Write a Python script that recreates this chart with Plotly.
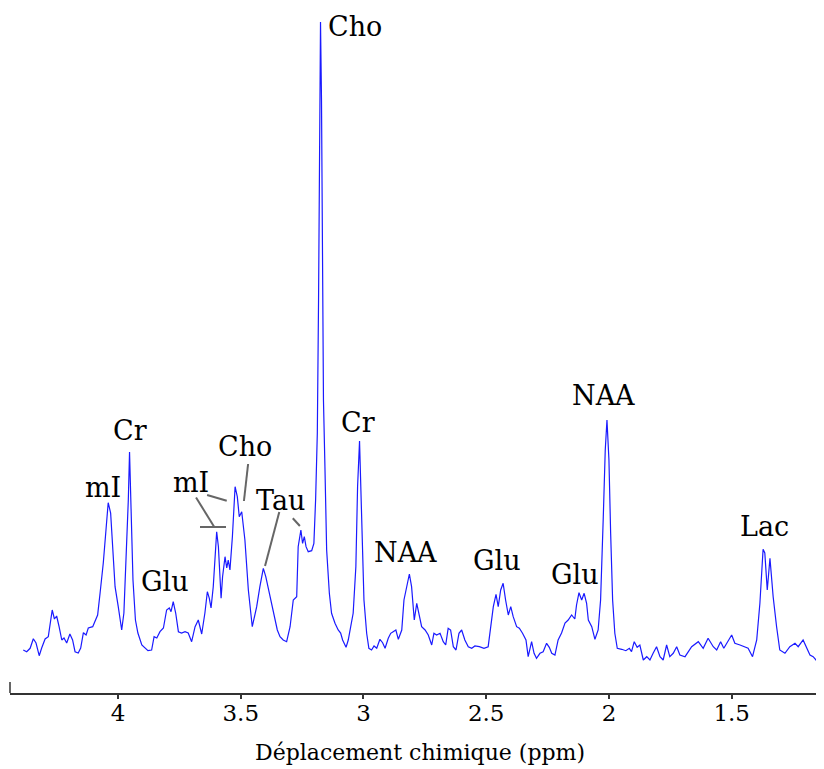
import plotly.graph_objects as go

# Chemical shift (ppm) and signal intensity (a.u.)
ppm = [
    4.386, 4.372, 4.358, 4.345, 4.334, 4.321, 4.311, 4.297, 4.284, 4.277,
    4.268, 4.259, 4.250, 4.240, 4.229, 4.220, 4.209, 4.196, 4.185, 4.175,
    4.162, 4.152, 4.141, 4.130, 4.121, 4.103, 4.094, 4.083, 4.073, 4.060,
    4.049, 4.040, 4.030, 4.022, 4.012, 3.999, 3.985, 3.976, 3.965, 3.958,
    3.953, 3.947, 3.939, 3.929, 3.919, 3.903, 3.890, 3.878, 3.863, 3.853,
    3.842, 3.829, 3.815, 3.802, 3.791, 3.784, 3.775, 3.765, 3.754, 3.741,
    3.727, 3.714, 3.700, 3.686, 3.673, 3.659, 3.646, 3.636, 3.628, 3.621,
    3.612, 3.605, 3.598, 3.591, 3.580, 3.574, 3.564, 3.557, 3.551, 3.544,
    3.534, 3.523, 3.514, 3.506, 3.496, 3.483, 3.469, 3.453, 3.435, 3.422,
    3.408, 3.398, 3.384, 3.367, 3.351, 3.340, 3.327, 3.313, 3.299, 3.286,
    3.272, 3.266, 3.255, 3.248, 3.241, 3.234, 3.225, 3.211, 3.202, 3.195,
    3.188, 3.183, 3.179, 3.175, 3.171, 3.167, 3.163, 3.157, 3.150, 3.139,
    3.130, 3.116, 3.103, 3.093, 3.085, 3.071, 3.062, 3.052, 3.042, 3.031,
    3.024, 3.016, 3.011, 3.006, 2.998, 2.987, 2.978, 2.967, 2.957, 2.946,
    2.933, 2.922, 2.912, 2.899, 2.889, 2.879, 2.868, 2.858, 2.844, 2.835,
    2.824, 2.813, 2.804, 2.793, 2.783, 2.773, 2.763, 2.749, 2.736, 2.722,
    2.713, 2.702, 2.688, 2.675, 2.665, 2.655, 2.645, 2.634, 2.623, 2.611,
    2.600, 2.587, 2.573, 2.559, 2.546, 2.528, 2.509, 2.492, 2.482, 2.471,
    2.460, 2.451, 2.441, 2.431, 2.421, 2.410, 2.400, 2.390, 2.376, 2.365,
    2.352, 2.338, 2.329, 2.315, 2.305, 2.295, 2.281, 2.268, 2.254, 2.243,
    2.233, 2.220, 2.207, 2.193, 2.179, 2.166, 2.152, 2.139, 2.132, 2.122,
    2.111, 2.101, 2.091, 2.084, 2.070, 2.057, 2.044, 2.034, 2.023, 2.015,
    2.008, 2.000, 1.993, 1.985, 1.976, 1.966, 1.948, 1.931, 1.917, 1.908,
    1.897, 1.885, 1.874, 1.860, 1.846, 1.833, 1.820, 1.806, 1.792, 1.779,
    1.765, 1.752, 1.738, 1.724, 1.711, 1.690, 1.663, 1.636, 1.616, 1.596,
    1.575, 1.561, 1.545, 1.532, 1.500, 1.487, 1.466, 1.446, 1.433, 1.415,
    1.398, 1.385, 1.372, 1.365, 1.355, 1.344, 1.331, 1.317, 1.304, 1.283,
    1.263, 1.242, 1.229, 1.209, 1.195, 1.181, 1.168, 1.147, 1.134,
]

intensity = [
    20, 18.3, 21.7, 31.3, 27, 14.3, 22, 31, 33.3, 47,
    60, 51, 54, 43.3, 30, 32, 27, 36, 30, 18.3,
    17, 22, 37.3, 35, 42, 43.3, 48.3, 55, 77, 107,
    140, 167.3, 157, 123.3, 83.3, 63.3, 40, 57, 123.3, 170,
    218, 170, 90, 50, 37, 25, 22, 19.3, 20, 33.3,
    32, 38.3, 42, 60, 62, 58.3, 68.3, 57, 38.3, 37,
    38.3, 37, 28.3, 43.3, 50, 36, 57, 78.3, 71.7, 62,
    83.3, 115, 138.3, 123.3, 71.7, 93.3, 113.3, 102, 110, 100,
    133.3, 183.3, 173.3, 153.3, 158.3, 130, 80, 43.3, 63.3, 83.3,
    101.7, 93.3, 76.7, 56.7, 40, 33.3, 30, 28.3, 43.3, 70,
    73.3, 123.3, 140, 126.7, 133.3, 123.3, 118.3, 119.3, 126.7, 170,
    237, 370, 570, 648, 570, 370, 270, 203.3, 120, 76.7,
    56.7, 46.7, 40, 37, 30, 22.7, 30, 43.3, 56.7, 103.3,
    183.3, 229, 183.3, 120, 70, 36.7, 21.7, 20, 24, 21.7,
    30.7, 27.3, 21.7, 31.7, 36.7, 38.3, 40, 30.7, 40, 70,
    83.3, 96, 83.3, 50, 66.7, 53.3, 43.3, 40, 35, 25,
    36.7, 35, 36.7, 28.3, 25, 41.7, 40, 23.3, 20, 36.7,
    40, 30, 23.3, 21.7, 24, 23.3, 21.7, 23.3, 40, 63.3,
    75.7, 63.3, 80, 86.7, 70, 55, 63.3, 53.3, 43.3, 41.7,
    36.7, 30, 13.3, 28.3, 16.7, 11.7, 16.7, 18.3, 26.7, 22.7,
    16.7, 15, 30, 37, 47, 50, 55, 51, 65, 77.3,
    70, 76.7, 66.7, 50, 43.3, 30.7, 40, 70, 153.3, 220,
    250, 210, 136.7, 70, 36.7, 21.7, 20.7, 19.3, 21.7, 18.3,
    28.3, 22.7, 25, 10, 13.3, 10, 16.7, 23.3, 13.3, 10,
    25, 13.3, 16.7, 23.3, 15, 13.3, 23.3, 28.3, 21.7, 31.7,
    23.3, 20, 28.3, 21.7, 35, 26.7, 25, 23.3, 21.7, 13.3,
    30, 66.7, 120.7, 117, 80, 111.7, 73.3, 43.3, 20, 16.7,
    23.3, 26.7, 23.3, 30, 21.7, 15, 13.3, 7.3, 18.3,
]

# Peak labels
label_text = ["Cho", "Cr", "mI", "Glu", "mI", "Cho", "Tau", "Cr",
              "NAA", "Glu", "Glu", "NAA", "Lac"]
label_ppm = [3.035, 3.951, 4.061, 3.809, 3.703, 3.483, 3.336, 3.023,
             2.829, 2.457, 2.138, 2.023, 1.366]
label_int = [644, 240, 183, 89, 188, 224, 170, 248,
             117.5, 110, 96, 275, 144]

# Leader lines (x0, y0, x1, y1) in ppm / intensity
leader_lines = [
    (3.682, 172.5, 3.609, 143.5),
    (3.666, 143.0, 3.560, 143.0),
    (3.637, 175.0, 3.557, 169.3),
    (3.470, 206.0, 3.487, 169.0),
    (3.343, 158.0, 3.401, 104.0),
    (3.288, 151.7, 3.259, 144.0),
]

tick_vals = [4, 3.5, 3, 2.5, 2, 1.5]
tick_text = ["4", "3.5", "3", "2.5", "2", "1.5"]
x_title = "Déplacement chimique (ppm)"

FONT = "DejaVu Serif"

fig = go.Figure()
fig.add_trace(go.Scatter(
    x=ppm, y=intensity, mode="lines",
    line=dict(color="#1a1aff", width=1.2),
    hoverinfo="skip", showlegend=False,
))

for t, xv, yv in zip(label_text, label_ppm, label_int):
    fig.add_annotation(x=xv, y=yv, text=t, showarrow=False,
                       xanchor="center", yanchor="middle",
                       font=dict(family=FONT, size=27, color="black"))

for x0, y0, x1, y1 in leader_lines:
    fig.add_shape(type="line", xref="x", yref="y", x0=x0, y0=y0, x1=x1, y1=y1,
                  line=dict(color="#666666", width=2))

# small left stub of the y axis
fig.add_shape(type="line", xref="paper", yref="paper", x0=0, x1=0, y0=0, y1=0.016,
              line=dict(color="#333333", width=1.5))

# axis title as an annotation for exact placement
fig.add_annotation(xref="paper", yref="paper", x=0.505, y=0, text=x_title,
                   showarrow=False, xanchor="center", yanchor="middle", yshift=-59,
                   font=dict(family=FONT, size=22, color="black"))

fig.update_layout(
    width=816, height=761,
    margin=dict(l=2, r=2, t=2, b=76),
    paper_bgcolor="white", plot_bgcolor="white",
    font=dict(family=FONT, color="black"),
    showlegend=False,
    xaxis=dict(
        range=[4.440, 1.132],
        tickvals=tick_vals, ticktext=tick_text,
        ticks="outside", ticklen=4, tickwidth=1.5, tickcolor="#333333",
        showline=True, linecolor="#333333", linewidth=1.5,
        showgrid=False, zeroline=False,
        tickfont=dict(family=FONT, size=23, color="black"),
        ticklabelstandoff=-5,
        automargin=False,
    ),
    yaxis=dict(range=[-23, 660], visible=False, showgrid=False, zeroline=False),
)

fig.write_html("out.html")
